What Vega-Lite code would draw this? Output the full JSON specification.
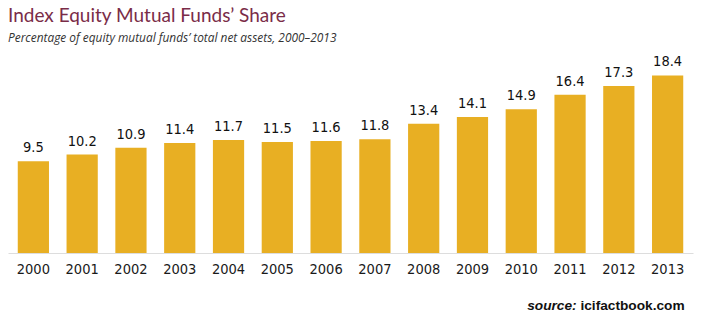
{
  "$schema": "https://vega.github.io/schema/vega-lite/v6.json",
  "autosize": "none",
  "width": 685,
  "height": 193,
  "padding": {"left": 8, "top": 60, "right": 27, "bottom": 73},
  "background": "white",
  "title": {
    "text": "Index Equity Mutual Funds’ Share",
    "subtitle": "Percentage of equity mutual funds’ total net assets, 2000–2013",
    "anchor": "start",
    "frame": "group",
    "font": "Lato",
    "fontSize": 19,
    "fontWeight": "normal",
    "color": "#7a2c48",
    "subtitleFont": "Open Sans",
    "subtitleFontSize": 11.9,
    "subtitleFontStyle": "italic",
    "subtitleColor": "#333333",
    "subtitlePadding": 7,
    "offset": 11
  },
  "data": {
    "values": [
      {"year": "2000", "share": 9.5},
      {"year": "2001", "share": 10.2},
      {"year": "2002", "share": 10.9},
      {"year": "2003", "share": 11.4},
      {"year": "2004", "share": 11.7},
      {"year": "2005", "share": 11.5},
      {"year": "2006", "share": 11.6},
      {"year": "2007", "share": 11.8},
      {"year": "2008", "share": 13.4},
      {"year": "2009", "share": 14.1},
      {"year": "2010", "share": 14.9},
      {"year": "2011", "share": 16.4},
      {"year": "2012", "share": 17.3},
      {"year": "2013", "share": 18.4}
    ]
  },
  "encoding": {
    "x": {
      "field": "year",
      "type": "nominal",
      "scale": {"paddingInner": 0.36, "paddingOuter": 0.2},
      "axis": {
        "title": null,
        "labelAngle": 0,
        "ticks": false,
        "domainColor": "#dddddd",
        "labelFont": "DejaVu Sans Condensed",
        "labelFontSize": 14.5,
        "labelColor": "#1a1a1a",
        "labelPadding": 9
      }
    },
    "y": {
      "field": "share",
      "type": "quantitative",
      "scale": {"domain": [0, 20]},
      "axis": null
    }
  },
  "layer": [
    {"mark": {"type": "bar", "color": "#E8AF23"}},
    {
      "mark": {
        "type": "text",
        "baseline": "alphabetic",
        "dy": -9,
        "font": "DejaVu Sans Condensed",
        "fontSize": 14.5,
        "color": "#111111"
      },
      "encoding": {"text": {"field": "share", "type": "quantitative", "format": ".1f"}}
    },
    {
      "data": {"values": [{"year": "2013", "pos": -5.5, "label": "icifactbook.com"}]},
      "mark": {
        "type": "text",
        "align": "right",
        "baseline": "middle",
        "dx": 17,
        "font": "Liberation Sans",
        "fontWeight": "bold",
        "fontSize": 13.7,
        "color": "#111111",
        "clip": false
      },
      "encoding": {
        "x": {"field": "year", "type": "nominal"},
        "y": {"field": "pos", "type": "quantitative"},
        "text": {"field": "label"}
      }
    },
    {
      "data": {"values": [{"year": "2013", "pos": -5.5, "label": "source:"}]},
      "mark": {
        "type": "text",
        "align": "right",
        "baseline": "middle",
        "dx": -91,
        "font": "Liberation Sans",
        "fontWeight": "bold",
        "fontStyle": "italic",
        "fontSize": 13.7,
        "color": "#111111",
        "clip": false
      },
      "encoding": {
        "x": {"field": "year", "type": "nominal"},
        "y": {"field": "pos", "type": "quantitative"},
        "text": {"field": "label"}
      }
    }
  ],
  "config": {"view": {"stroke": null}}
}
